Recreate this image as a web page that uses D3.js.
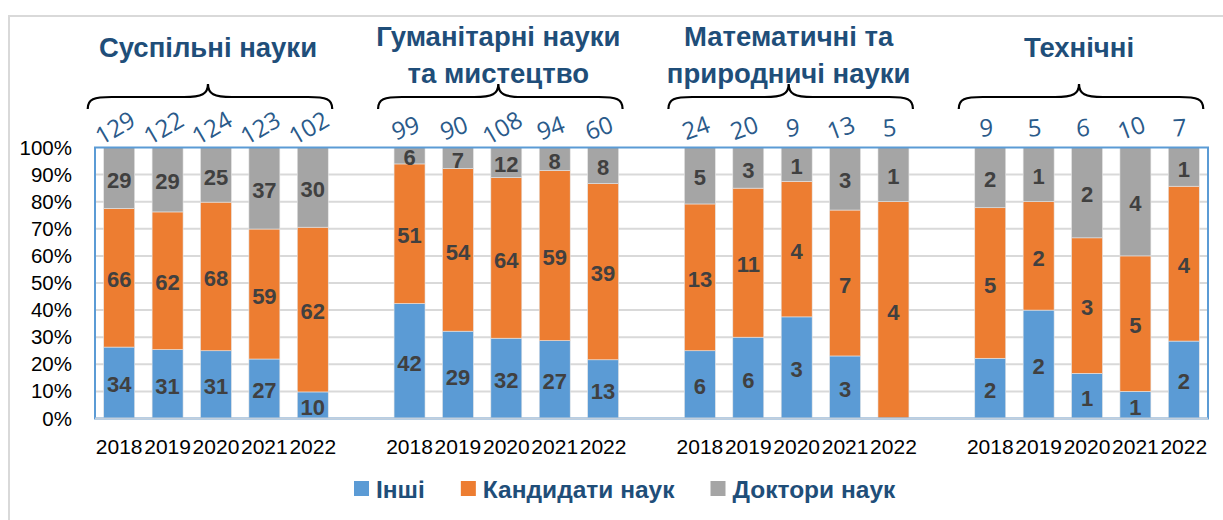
<!DOCTYPE html>
<html>
<head>
<meta charset="utf-8">
<script src="https://cdn.jsdelivr.net/npm/d3@7"></script>
<style>
  body { margin: 0; background: #fff; }
  svg { display: block; font-family: "Liberation Sans", Arial, sans-serif; }
</style>
</head>
<body>
<svg width="1223" height="520"></svg>
<script>
/* data */
const groupTitles = [
  ["Суспільні науки"],
  ["Гуманітарні науки", "та мистецтво"],
  ["Математичні та", "природничі науки"],
  ["Технічні"]
];
const years = ["2018", "2019", "2020", "2021", "2022"];
const seriesNames = ["Інші", "Кандидати наук", "Доктори наук"];
const other      = [34, 31, 31, 27, 10,  42, 29, 32, 27, 13,  6, 6, 3, 3, 0,  2, 2, 1, 1, 2];
const candidates = [66, 62, 68, 59, 62,  51, 54, 64, 59, 39,  13, 11, 4, 7, 4,  5, 2, 3, 5, 4];
const doctors    = [29, 29, 25, 37, 30,  6, 7, 12, 8, 8,  5, 3, 1, 3, 1,  2, 1, 2, 4, 1];
const totals     = [129, 122, 124, 123, 102,  99, 90, 108, 94, 60,  24, 20, 9, 13, 5,  9, 5, 6, 10, 7];
const yTickLabels = ["0%", "10%", "20%", "30%", "40%", "50%", "60%", "70%", "80%", "90%", "100%"];

/* basic setup */
const svg = d3.select("svg");
const colors = ["#5b9bd5", "#ed7d31", "#a5a5a5"];
const titleColor = "#1f4e79";
const plot = { left: 95, right: 1208, top: 147.5, bottom: 418.5 };

// outer chart frame
svg.append("rect")
  .attr("x", 9).attr("y", 16).attr("width", 1300).attr("height", 600)
  .attr("fill", "#fff").attr("stroke", "#d9d9d9").attr("stroke-width", 2);

// slots: 5 years per group, one empty slot between groups
let slots = [];
groupTitles.forEach((g, gi) => {
  years.forEach(y => slots.push(gi + "-" + y));
  if (gi < groupTitles.length - 1) slots.push("gap" + gi);
});

const x = d3.scaleBand().domain(slots)
  .range([plot.left, plot.right])
  .paddingInner(0.36).paddingOuter(0.18);
const y = d3.scaleLinear().domain([0, 1]).range([plot.bottom, plot.top]);

// rows for the stack
let rows = [];
groupTitles.forEach((g, gi) => {
  years.forEach((yr, yi) => {
    const i = gi * years.length + yi;
    rows.push({ slot: gi + "-" + yr, year: yr, group: gi,
      other: other[i], candidates: candidates[i], doctors: doctors[i], total: totals[i] });
  });
});

const keys = ["other", "candidates", "doctors"];
const stacked = d3.stack().keys(keys).offset(d3.stackOffsetExpand)(rows);

// gridlines
const yTicks = yTickLabels.map(t => parseInt(t) / 100);
svg.append("g").selectAll("line")
  .data(yTicks.filter(t => t > 0 && t < 1))
  .join("line")
  .attr("x1", plot.left).attr("x2", plot.right)
  .attr("y1", d => y(d)).attr("y2", d => y(d))
  .attr("stroke", "#d9d9d9").attr("stroke-width", 2);

// y axis labels
const yAxis = d3.axisLeft(y).tickValues(yTicks)
  .tickFormat((d, i) => yTickLabels[i]).tickSize(0).tickPadding(0);
svg.append("g")
  .attr("transform", "translate(72,0)")
  .call(yAxis)
  .call(g => g.select(".domain").remove())
  .selectAll("text")
  .attr("font-family", "Liberation Sans, Arial, sans-serif")
  .attr("font-size", 20.5).attr("fill", "#000");

// bars
const layer = svg.append("g").selectAll("g")
  .data(stacked)
  .join("g")
  .attr("fill", (d, i) => colors[i]);

layer.selectAll("rect")
  .data(d => d)
  .join("rect")
  .attr("x", d => x(d.data.slot))
  .attr("width", x.bandwidth())
  .attr("y", d => y(d[1]))
  .attr("height", d => y(d[0]) - y(d[1]))
  .attr("stroke", "#e6e6e6").attr("stroke-width", 0.6);

// segment labels
layer.selectAll("text")
  .data((d, i) => d.map(s => ({ s: s, key: keys[i] })))
  .join("text")
  .filter(d => d.s.data[d.key] > 0)
  .attr("x", d => x(d.s.data.slot) + x.bandwidth() / 2)
  .attr("y", d => (y(d.s[0]) + y(d.s[1])) / 2 + 2)
  .attr("dy", "0.35em")
  .attr("text-anchor", "middle")
  .attr("font-size", 22).attr("font-weight", "bold")
  .attr("fill", "#404040")
  .text(d => d.s.data[d.key]);

// plot area border and x axis line
svg.append("rect")
  .attr("x", plot.left).attr("y", plot.top)
  .attr("width", plot.right - plot.left).attr("height", plot.bottom - plot.top)
  .attr("fill", "none").attr("stroke", "#5b9bd5").attr("stroke-width", 2);
svg.append("line")
  .attr("x1", plot.left).attr("x2", plot.right)
  .attr("y1", plot.bottom).attr("y2", plot.bottom)
  .attr("stroke", "#c3cfdc").attr("stroke-width", 2);

// x axis year labels
const xAxis = d3.axisBottom(x)
  .tickValues(slots.filter(s => !s.startsWith("gap")))
  .tickFormat(s => s.split("-")[1]).tickSize(0).tickPadding(0);
svg.append("g")
  .attr("transform", "translate(0,439)")
  .call(xAxis)
  .call(g => g.select(".domain").remove())
  .selectAll("text")
  .attr("font-family", "Liberation Sans, Arial, sans-serif")
  .attr("font-size", 21).attr("fill", "#000");

// totals above bars
svg.append("g").selectAll("text")
  .data(rows)
  .join("text")
  .attr("transform", d => {
    const cx = x(d.slot) + x.bandwidth() / 2 - 4;
    const n = String(d.total).length;
    const a = n >= 3 ? -30 : n === 2 ? -20 : -4;
    return "translate(" + cx + ",128) rotate(" + a + ")";
  })
  .attr("dy", "0.35em")
  .attr("text-anchor", "middle")
  .attr("font-family", "Open Sans, sans-serif")
  .attr("font-size", 24).attr("fill", "#2a5a8a")
  .text(d => d.total);

// braces and group titles
groupTitles.forEach((lines, gi) => {
  const first = x(gi + "-" + years[0]);
  const last = x(gi + "-" + years[years.length - 1]) + x.bandwidth();
  const x0 = first - 16, x1 = last + 4;
  const px = (first + last) / 2 - 8;
  const yEnd = 109, yMid = 97, yTop = 84;
  const r = 24;
  const path = d3.path();
  path.moveTo(x0, yEnd);
  path.bezierCurveTo(x0, yMid + 2, x0 + 6, yMid, x0 + r, yMid);
  path.lineTo(px - r, yMid);
  path.bezierCurveTo(px - 6, yMid, px, yMid - 3, px, yTop);
  path.bezierCurveTo(px, yMid - 3, px + 6, yMid, px + r, yMid);
  path.lineTo(x1 - r, yMid);
  path.bezierCurveTo(x1 - 6, yMid, x1, yMid + 2, x1, yEnd);
  svg.append("path")
    .attr("d", path.toString())
    .attr("fill", "none").attr("stroke", "#000").attr("stroke-width", 2.2);

  const t = svg.append("text")
    .attr("text-anchor", "middle")
    .attr("font-size", 27.5).attr("font-weight", "bold")
    .attr("fill", titleColor);
  const baselines = lines.length === 1 ? [57] : [46, 83];
  lines.forEach((ln, li) => {
    t.append("tspan").attr("x", px).attr("y", baselines[li]).text(ln);
  });
});

// legend
const legend = svg.append("g").attr("transform", "translate(354,489)");
let lx = 0;
seriesNames.forEach((name, i) => {
  const item = legend.append("g").attr("transform", "translate(" + lx + ",0)");
  item.append("rect").attr("x", 0).attr("y", -8).attr("width", 15).attr("height", 15)
    .attr("fill", colors[i]);
  const txt = item.append("text").attr("x", 22).attr("y", 0).attr("dy", "0.35em")
    .attr("font-size", 24.5).attr("font-weight", "bold").attr("fill", titleColor)
    .text(name);
  lx += 22 + txt.node().getComputedTextLength() + 36;
});
</script>
</body>
</html>
